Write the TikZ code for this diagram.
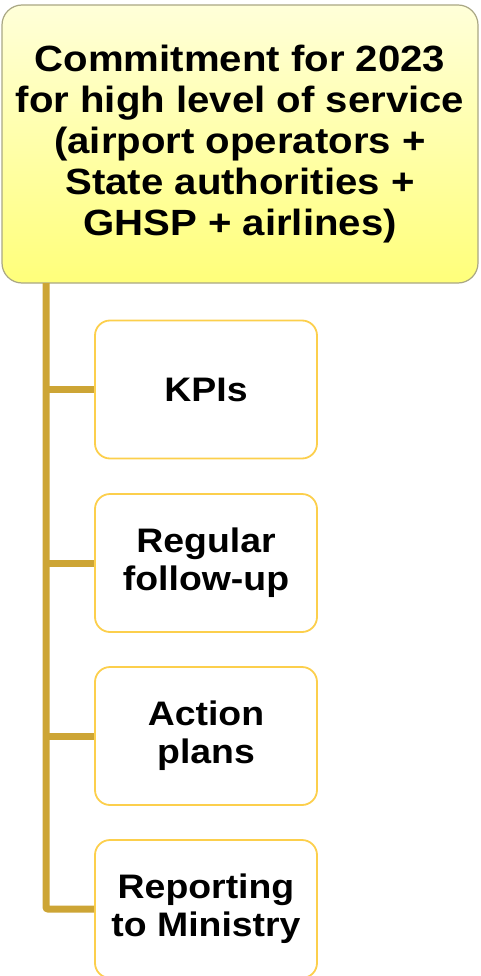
\documentclass[tikz,border=0pt]{standalone}
\usepackage{fontspec}
\setmainfont[FakeStretch=1.1]{Liberation Sans}
\begin{document}
\begin{tikzpicture}[x=1pt,y=-1pt,
  topbox/.style={draw=olivegray, line width=1.2pt, rounded corners=20pt,
    top color=yellow!15, bottom color=yellow!52, minimum width=476pt, minimum height=278pt,
    align=center, font=\fontsize{36.5}{41}\selectfont\bfseries, inner sep=0pt},
  childbox/.style={draw=gold, line width=1.8pt, rounded corners=15pt, fill=white,
    minimum width=222pt, minimum height=138pt, align=center,
    font=\fontsize{34}{38}\selectfont\bfseries, inner sep=0pt},
  conn/.style={draw=spine, line width=7pt}]
\definecolor{gold}{HTML}{FCCF4C}
\definecolor{spine}{HTML}{CDA535}
\definecolor{olivegray}{HTML}{A9A784}
\useasboundingbox (0,0) rectangle (480,976);
\clip (0,0) rectangle (480,976);
\node[topbox] (top) at (240,144) {Commitment for 2023\\for high level of service\\(airport operators +\\State authorities +\\GHSP + airlines)};
\coordinate (s) at (46,283);
\node[childbox] (k1) at (206,389.5) {KPIs};
\node[childbox] (k2) at (206,563) {Regular\\follow-up};
\node[childbox] (k3) at (206,736) {Action\\plans};
\node[childbox] (k4) at (206,909) {Reporting\\to Ministry};
\draw[conn, line cap=butt] (s |- k1.west) -- (k1.west);
\draw[conn] (s |- k2.west) -- (k2.west);
\draw[conn] (s |- k3.west) -- (k3.west);
\draw[conn, rounded corners=2pt] (s) |- (k4.west);
\end{tikzpicture}
\end{document}
